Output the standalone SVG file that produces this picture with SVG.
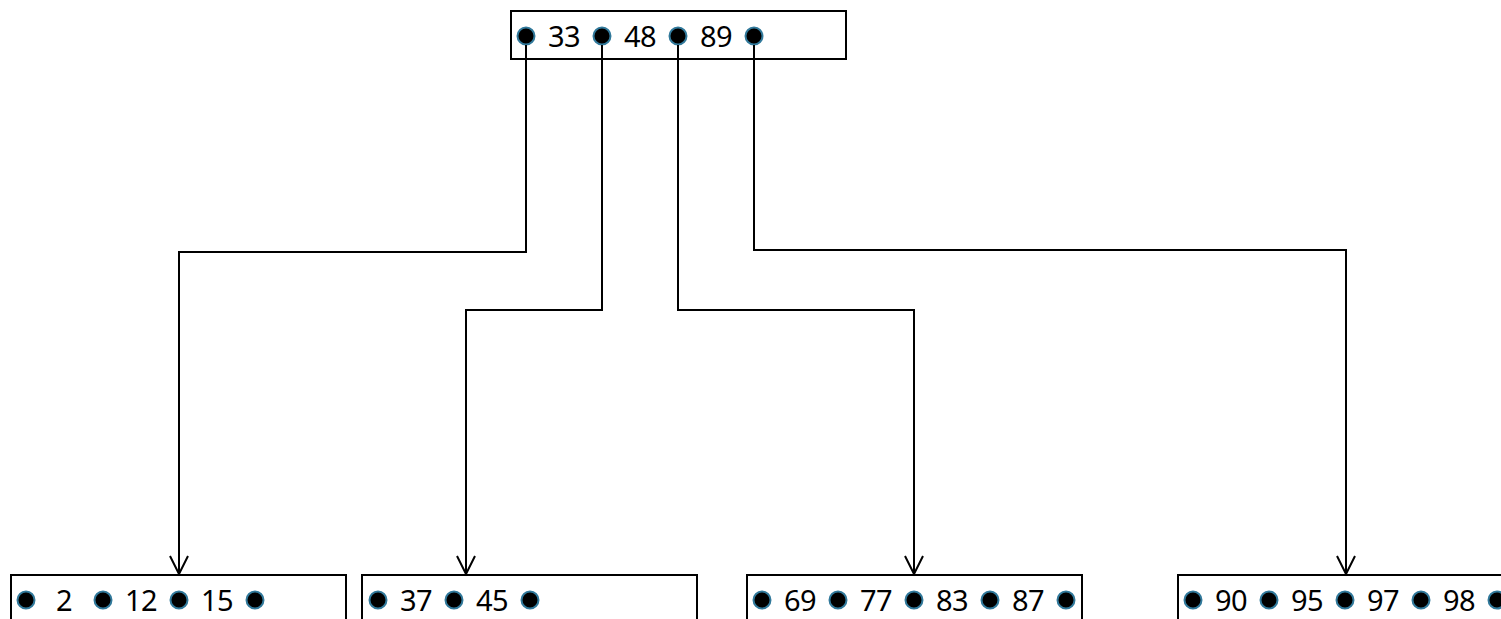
<svg xmlns="http://www.w3.org/2000/svg" width="1501" height="619" viewBox="0 0 1501 619">
<style>
.box{fill:#fff;stroke:#000;stroke-width:2}
.dot{fill:#000;stroke:#31799b;stroke-width:2}
.t{font-family:"Noto Sans","Open Sans",sans-serif;font-size:29px;fill:#000;text-anchor:middle;letter-spacing:-0.5px}
</style>
<defs>
<g id="ah"><path d="M-9,-18 L0,0 L9,-18" fill="none" stroke="#000" stroke-width="2"/></g>
</defs>
<g id="root">
<rect class="box" x="511" y="11" width="335" height="48"/>
<circle class="dot" cx="526" cy="36" r="8.5"/>
<circle class="dot" cx="602" cy="36" r="8.5"/>
<circle class="dot" cx="678" cy="36" r="8.5"/>
<circle class="dot" cx="754" cy="36" r="8.5"/>
<text class="t" x="564" y="47">33</text>
<text class="t" x="640" y="47">48</text>
<text class="t" x="716" y="47">89</text>
</g>
<g id="leaf1">
<rect class="box" x="11" y="575" width="335" height="60"/>
<circle class="dot" cx="26" cy="600" r="8.5"/>
<circle class="dot" cx="103" cy="600" r="8.5"/>
<circle class="dot" cx="179" cy="600" r="8.5"/>
<circle class="dot" cx="255" cy="600" r="8.5"/>
<text class="t" x="64" y="611">2</text>
<text class="t" x="141" y="611">12</text>
<text class="t" x="217" y="611">15</text>
</g>
<g id="leaf2">
<rect class="box" x="362" y="575" width="335" height="60"/>
<circle class="dot" cx="378" cy="600" r="8.5"/>
<circle class="dot" cx="454" cy="600" r="8.5"/>
<circle class="dot" cx="530" cy="600" r="8.5"/>
<text class="t" x="416" y="611">37</text>
<text class="t" x="492" y="611">45</text>
</g>
<g id="leaf3">
<rect class="box" x="747" y="575" width="335" height="60"/>
<circle class="dot" cx="762" cy="600" r="8.5"/>
<circle class="dot" cx="838" cy="600" r="8.5"/>
<circle class="dot" cx="914" cy="600" r="8.5"/>
<circle class="dot" cx="990" cy="600" r="8.5"/>
<circle class="dot" cx="1066" cy="600" r="8.5"/>
<text class="t" x="800" y="611">69</text>
<text class="t" x="876" y="611">77</text>
<text class="t" x="952" y="611">83</text>
<text class="t" x="1028" y="611">87</text>
</g>
<g id="leaf4">
<rect class="box" x="1178" y="575" width="335" height="60"/>
<circle class="dot" cx="1193" cy="600" r="8.5"/>
<circle class="dot" cx="1269" cy="600" r="8.5"/>
<circle class="dot" cx="1345" cy="600" r="8.5"/>
<circle class="dot" cx="1421" cy="600" r="8.5"/>
<circle class="dot" cx="1497" cy="600" r="8.5"/>
<text class="t" x="1231" y="611">90</text>
<text class="t" x="1307" y="611">95</text>
<text class="t" x="1383" y="611">97</text>
<text class="t" x="1459" y="611">98</text>
</g>
<g id="connectors" fill="none" stroke="#000" stroke-width="2">
<polyline points="526,45 526,252 179,252 179,574"/>
<polyline points="602,45 602,310 466,310 466,574"/>
<polyline points="678,45 678,310 914,310 914,574"/>
<polyline points="754,45 754,250 1346,250 1346,574"/>
<use href="#ah" x="179" y="574"/>
<use href="#ah" x="466" y="574"/>
<use href="#ah" x="914" y="574"/>
<use href="#ah" x="1346" y="574"/>
</g>
</svg>
